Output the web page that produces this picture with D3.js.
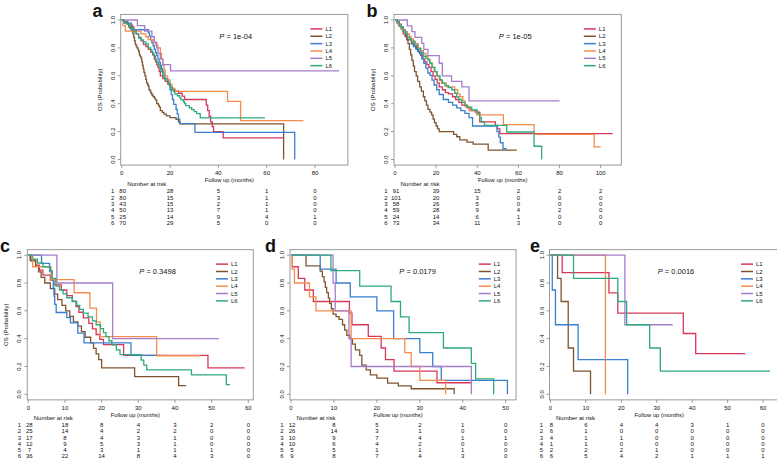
<!DOCTYPE html>
<html><head><meta charset="utf-8">
<script src="https://cdn.jsdelivr.net/npm/d3@7"></script>
<style>body{margin:0;background:#fff}svg{display:block}text{font-family:"Liberation Sans",Arial,sans-serif;fill:#111}</style>
</head><body><svg id="chart" width="777" height="459"></svg>
<script>
const groups = ["L1","L2","L3","L4","L5","L6"];
const colors = ["#D7385A","#7F5530","#3A7FCF","#F68B4C","#A67DCB","#2EAA7F"];
const yTicks = [0,0.2,0.4,0.6,0.8,1.0];

const ticksA = [0,20,40,60,80];
const ticksB = [0,20,40,60,80,100];
const ticksC = [0,10,20,30,40,50,60];
const ticksD = [0,10,20,30,40,50];
const ticksE = [0,10,20,30,40,50,60];

const pA = "1e-04", pB = "1e-05", pC = "0.3498", pD = "0.0179", pE = "0.0016";

const riskA = [[80,28,5,1,0],[80,15,3,1,0],[43,15,2,1,0],[50,13,7,1,0],[25,14,9,4,1],[70,29,5,0,0]];
const riskB = [[91,39,15,2,2,2],[101,20,3,0,0,0],[58,26,5,0,0,0],[59,28,9,4,2,0],[24,14,6,1,0,0],[73,34,11,3,0,0]];
const riskC = [[28,18,8,4,3,2,0],[25,14,4,2,2,0,0],[17,8,4,3,1,0,0],[12,9,5,3,1,0,0],[7,4,3,1,1,1,0],[36,22,14,8,4,3,0]];
const riskD = [[12,8,5,2,1,0],[26,14,3,1,0,0],[10,9,7,4,1,1],[10,6,4,2,0,0],[5,5,1,1,1,0],[9,8,7,4,3,0]];
const riskE = [[8,6,4,4,3,1,0],[6,1,0,0,0,0,0],[4,1,1,0,0,0,0],[1,1,0,0,0,0,0],[2,2,2,1,0,0,0],[6,5,4,2,1,1,1]];

// Kaplan-Meier step points [time, survival]; last point = end of curve
const curvesA = [
 [[0,1],[1,0.9875],[2.5,0.975],[3,0.9625],[4.5,0.95],[5,0.925],[6,0.9],[7,0.875],[8,0.85],[9,0.825],[10,0.81],[11,0.79],[12,0.77],[12.8,0.75],[13.5,0.72],[14,0.7],[14.5,0.68],[15,0.66],[15.5,0.63],[16,0.6],[17,0.58],[18,0.56],[19,0.54],[20,0.52],[21,0.5],[22,0.49],[23.5,0.475],[25,0.455],[26,0.43],[35,0.39],[35.6,0.35],[36.2,0.31],[36.8,0.27],[37.5,0.235],[38,0.2],[42,0.155],[67,0.155]],
 [[0,1],[1,0.9875],[2,0.975],[3,0.95],[3.5,0.9375],[4.2,0.925],[4.6,0.9],[5,0.875],[5.3,0.85],[5.6,0.825],[6,0.8125],[6.3,0.8],[6.8,0.7875],[7,0.775],[7.3,0.75],[7.7,0.7375],[8,0.725],[8.3,0.7],[8.6,0.675],[8.9,0.65],[9.2,0.625],[9.6,0.6],[10,0.575],[10.3,0.55],[10.7,0.5375],[11,0.525],[11.3,0.5],[11.8,0.4875],[12.1,0.475],[12.5,0.4625],[13,0.45],[13.6,0.4375],[14,0.425],[14.5,0.4],[15.2,0.3875],[15.6,0.375],[16,0.35],[16.8,0.3375],[17.5,0.325],[18.5,0.3125],[20,0.3],[22.5,0.2875],[23.5,0.27],[24.2,0.255],[67,0]],
 [[0,1],[1,0.977],[4,0.93],[11,0.907],[11.5,0.884],[12,0.86],[12.5,0.837],[13,0.814],[13.5,0.79],[14,0.767],[14.5,0.744],[15,0.72],[15.5,0.698],[16,0.675],[16.5,0.65],[17,0.628],[17.5,0.605],[18,0.58],[19,0.558],[19.5,0.535],[20,0.5],[20.5,0.465],[21,0.43],[21.5,0.395],[22.5,0.36],[23,0.325],[23.5,0.29],[24,0.257],[30.3,0.195],[71.6,0]],
 [[0,1],[0.5,0.96],[1.5,0.92],[8,0.9],[10,0.88],[11,0.86],[13,0.84],[14,0.82],[15,0.8],[16,0.76],[16.5,0.72],[17,0.68],[17.5,0.64],[18,0.6],[19,0.57],[20,0.54],[20.8,0.51],[22,0.488],[43.8,0.417],[49.2,0.279],[75.2,0.279]],
 [[0,1],[6.5,0.96],[9.5,0.92],[12.5,0.88],[13.5,0.84],[14.5,0.8],[15,0.76],[16,0.72],[17,0.68],[20.2,0.636],[90,0.636]],
 [[0,1],[1,0.986],[2,0.971],[3,0.957],[4,0.943],[5,0.914],[6,0.9],[7,0.871],[8,0.857],[9,0.843],[10,0.829],[11,0.8],[12,0.786],[12.5,0.771],[13,0.757],[13.5,0.743],[14,0.714],[14.5,0.7],[15,0.686],[15.5,0.671],[16,0.643],[16.5,0.629],[17,0.6],[17.5,0.586],[18,0.571],[19,0.557],[19.5,0.543],[20,0.514],[21,0.5],[21.5,0.486],[22,0.471],[23,0.457],[24,0.443],[24.5,0.429],[25.5,0.414],[26,0.4],[26.5,0.386],[28,0.371],[29,0.357],[30,0.343],[31,0.329],[32.5,0.298],[59.3,0.298]]
];
const curvesB = [
 [[0,1],[1,0.978],[2,0.956],[3,0.934],[4,0.9],[5,0.879],[6,0.857],[8,0.835],[9.5,0.813],[10.5,0.79],[11.5,0.77],[12.5,0.747],[13.5,0.72],[14.5,0.7],[15.5,0.68],[16.5,0.66],[17.5,0.63],[18.5,0.6],[19.5,0.575],[20.5,0.55],[21.5,0.52],[23,0.5],[24.5,0.48],[26,0.47],[28,0.45],[29.5,0.43],[31,0.41],[32.5,0.39],[35,0.37],[36.5,0.35],[39,0.34],[41.2,0.27],[48.8,0.245],[49.8,0.22],[51,0.185],[105.8,0.185]],
 [[0,1],[1,0.99],[2,0.97],[3,0.95],[4,0.92],[5,0.89],[5.7,0.86],[6.3,0.83],[7,0.79],[7.6,0.75],[8.2,0.71],[8.9,0.67],[9.5,0.63],[10.3,0.6],[11,0.56],[12,0.52],[12.8,0.49],[13.8,0.45],[14.5,0.42],[15.3,0.39],[16,0.36],[17,0.34],[17.8,0.32],[18.5,0.29],[19.2,0.265],[20,0.24],[20.7,0.22],[21.5,0.2],[28.5,0.18],[30,0.163],[31.5,0.14],[35,0.125],[38,0.11],[45.3,0.067],[59.2,0.067]],
 [[0,1],[1,0.983],[2,0.966],[3,0.948],[4,0.93],[5,0.914],[6,0.897],[7,0.862],[8,0.828],[9,0.81],[10,0.793],[11,0.776],[12,0.759],[13,0.724],[14,0.69],[15,0.655],[16,0.62],[17,0.603],[18,0.569],[19,0.534],[20.3,0.5],[21.5,0.466],[23.5,0.43],[26,0.41],[28,0.39],[30,0.37],[32,0.35],[34,0.33],[36,0.3],[37.7,0.24],[49.6,0.2],[50.5,0.16],[51.2,0.12],[52.5,0.077],[54.3,0.077]],
 [[0,1],[1,0.983],[1.6,0.966],[2.5,0.949],[3.5,0.932],[4.5,0.915],[6,0.898],[7,0.88],[8,0.864],[9,0.847],[10,0.83],[11.3,0.8],[12.5,0.78],[13.8,0.76],[15,0.74],[16,0.72],[17,0.69],[18,0.66],[19,0.63],[20.3,0.6],[21.5,0.57],[22.7,0.545],[25,0.52],[29,0.5],[30.5,0.47],[31.6,0.45],[33,0.42],[34,0.38],[36,0.35],[39.7,0.32],[52.7,0.25],[67.6,0.18],[96.8,0.09],[100,0.09]],
 [[0,1],[6,0.958],[8.2,0.917],[9.7,0.875],[13,0.833],[14,0.79],[16,0.745],[21.5,0.69],[23,0.6],[27.5,0.56],[32.5,0.52],[36,0.42],[80,0.42]],
 [[0,1],[1,0.986],[2,0.959],[3,0.945],[4,0.918],[5,0.904],[6,0.877],[7,0.863],[8,0.849],[9.5,0.822],[11,0.795],[12.5,0.767],[13.8,0.74],[15,0.726],[16,0.712],[17,0.69],[18,0.66],[19.4,0.63],[20.5,0.6],[21.9,0.57],[23,0.55],[24.3,0.53],[26,0.515],[27.6,0.5],[29,0.475],[30,0.45],[31,0.43],[32.4,0.41],[34,0.39],[35,0.375],[37.3,0.355],[40,0.33],[41.2,0.3],[42,0.27],[43.5,0.245],[54.3,0.197],[67.6,0.095],[71.3,0]]
];
const curvesC = [
 [[0,1],[0.5,0.964],[2,0.929],[3,0.893],[4,0.857],[6,0.821],[7,0.786],[9,0.75],[10.5,0.71],[12,0.67],[13,0.63],[13.8,0.59],[15,0.55],[16.5,0.51],[17.5,0.47],[18.5,0.43],[19.5,0.395],[20.5,0.357],[26,0.28],[49,0.19],[59,0.19]],
 [[0,1],[0.6,0.96],[2,0.92],[2.8,0.88],[3.5,0.84],[4.5,0.8],[6,0.76],[7.2,0.72],[8,0.68],[9.2,0.64],[10.2,0.6],[11.3,0.56],[12.3,0.52],[13.5,0.49],[14.5,0.45],[15.5,0.41],[17,0.37],[17.8,0.33],[18.5,0.29],[19.2,0.25],[20,0.19],[29,0.127],[41,0.063],[43,0.063]],
 [[0,1],[3.6,0.941],[5.8,0.882],[6.4,0.824],[6.8,0.765],[7,0.706],[7.2,0.647],[7.6,0.588],[10.5,0.551],[11.5,0.514],[13.5,0.44],[15.2,0.37],[28,0.28],[36,0.28]],
 [[0,1],[1.2,0.917],[6.2,0.825],[12.5,0.73],[16.8,0.62],[18.6,0.52],[19.6,0.415],[35,0.277],[47,0.277]],
 [[0,1],[7.8,0.8],[23,0.4],[52,0.4]],
 [[0,1],[1,0.972],[2.5,0.944],[4,0.917],[6,0.889],[6.5,0.833],[7.5,0.778],[8.5,0.75],[9.5,0.722],[10.5,0.694],[12,0.667],[13.2,0.639],[14,0.611],[15,0.583],[16.3,0.556],[17.5,0.528],[18.5,0.5],[19.7,0.472],[20.5,0.444],[21.2,0.415],[22,0.385],[22.8,0.355],[24,0.32],[25,0.285],[30.8,0.245],[31.5,0.21],[32.3,0.175],[44.5,0.14],[54,0.07],[55,0.07]]
];
const curvesD = [
 [[0,1],[0.3,0.917],[1.7,0.833],[3.2,0.75],[5.2,0.667],[13.6,0.583],[14.2,0.5],[18,0.417],[21,0.333],[22,0.25],[24,0.167],[34,0.083],[42,0.083]],
 [[0,1],[3.5,0.923],[6.8,0.885],[7.3,0.846],[7.7,0.808],[8,0.769],[8.3,0.731],[8.7,0.692],[9,0.654],[9.4,0.615],[9.8,0.577],[10.5,0.558],[11.2,0.538],[12,0.5],[12.5,0.462],[13,0.423],[13.7,0.4],[14.3,0.36],[15,0.32],[16,0.28],[16.5,0.21],[17.5,0.175],[18.5,0.14],[20,0.117],[22.5,0.08],[25,0.06],[28,0.04],[38,0]],
 [[0,1],[6.8,0.9],[10.5,0.8],[13.8,0.7],[20,0.6],[23.9,0.4],[30,0.3],[33,0.2],[35,0.1],[50.4,0]],
 [[0,1],[0.3,0.9],[0.8,0.8],[4.3,0.7],[5.8,0.6],[14,0.4],[26.5,0.3],[28,0.2],[30,0.1],[36,0]],
 [[0,1],[9.8,0.8],[10.3,0.6],[13.5,0.4],[14,0.2],[42,0]],
 [[0,1],[9.3,0.889],[16,0.778],[23.3,0.667],[25.5,0.556],[27.5,0.444],[35.5,0.333],[42,0.222],[43,0.111],[47.2,0]]
];
const curvesE = [
 [[0,1],[3.3,0.875],[16.5,0.729],[19,0.583],[37.5,0.437],[41,0.292],[55,0.292]],
 [[0,1],[2,0.833],[3,0.667],[5,0.333],[6.5,0.167],[11.3,0]],
 [[0,1],[0.5,0.75],[1.4,0.5],[7.8,0.25],[21.8,0]],
 [[0,1],[15.5,0]],
 [[0,1],[21,0.5],[34.5,0.5]],
 [[0,1],[6.5,0.833],[19,0.667],[21.5,0.5],[28,0.333],[31,0.167],[62,0.167]]
];

const panels = [
 {lab:"a", labPos:[92.5,16.5], curves:curvesA, risk:riskA, ticks:ticksA, p:pA, xr:[121.7,315], yr:[159.5,20], ytitle:true, headY:184.3, rowY:191, rowDY:6.4},
 {lab:"b", labPos:[366.5,16.5], curves:curvesB, risk:riskB, ticks:ticksB, p:pB, xr:[395,600.7], yr:[159.5,20], ytitle:true, headY:184.3, rowY:191, rowDY:6.4},
 {lab:"c", labPos:[0,251.5], curves:curvesC, risk:riskC, ticks:ticksC, p:pC, xr:[28.3,248.3], yr:[394.3,255.2], ytitle:true, headY:417.7, rowY:425, rowDY:6.2},
 {lab:"d", labPos:[265,251.5], curves:curvesD, risk:riskD, ticks:ticksD, p:pD, xr:[291,505.7], yr:[394.3,255.2], ytitle:false, headY:417.7, rowY:425, rowDY:6.2},
 {lab:"e", labPos:[530,251.5], curves:curvesE, risk:riskE, ticks:ticksE, p:pE, xr:[550.5,763], yr:[394.3,255.2], ytitle:false, headY:417.7, rowY:425, rowDY:6.2}
];

const svg = d3.select("#chart");
svg.append("rect").attr("width",777).attr("height",459).attr("fill","#fff");
const fmt = d3.format(".1f");

panels.forEach(P => {
  const tmax = P.ticks[P.ticks.length-1];
  const x = d3.scaleLinear().domain([0,tmax]).range(P.xr);
  const y = d3.scaleLinear().domain([0,1]).range(P.yr);
  const dataMax = d3.max(P.curves, c => c[c.length-1][0]);
  const bl = x(0)-1, br = x(dataMax*1.04), bt = y(1.04), bb = y(-0.04);
  const g = svg.append("g");

  g.append("rect").attr("x",bl).attr("y",bt).attr("width",br-bl).attr("height",bb-bt)
    .attr("fill","none").attr("stroke","#9a9a9a").attr("stroke-width",1);

  yTicks.forEach(v => {
    g.append("line").attr("x1",bl).attr("x2",bl-3).attr("y1",y(v)).attr("y2",y(v)).attr("stroke","#777").attr("stroke-width",0.7);
    g.append("text").attr("transform",`translate(${bl-6},${y(v)}) rotate(-90)`)
      .attr("text-anchor","middle").attr("font-size",6).text(fmt(v));
  });
  if (P.ytitle) {
    g.append("text").attr("transform",`translate(${bl-19},${(bt+bb)/2}) rotate(-90)`)
      .attr("text-anchor","middle").attr("font-size",6).text("OS (Probability)");
  }
  P.ticks.forEach(t => {
    g.append("line").attr("x1",x(t)).attr("x2",x(t)).attr("y1",bb).attr("y2",bb+3).attr("stroke","#777").attr("stroke-width",0.7);
    g.append("text").attr("x",x(t)).attr("y",bb+9.7).attr("text-anchor","middle").attr("font-size",6).text(t);
  });
  g.append("text").attr("x",(bl+br)/2-5).attr("y",bb+16.8).attr("text-anchor","middle").attr("font-size",5.8).text("Follow up (months)");

  const line = d3.line().x(d=>x(d[0])).y(d=>y(d[1])).curve(d3.curveStepAfter);
  P.curves.forEach((c,i) => {
    g.append("path").attr("d",line(c)).attr("fill","none").attr("stroke",colors[i]).attr("stroke-width",1.3);
  });

  const pt = g.append("text").attr("x",x(tmax/2)+1).attr("y",y(0.885)+2.7).attr("font-size",7.5);
  pt.append("tspan").attr("font-style","italic").text("P");
  pt.append("tspan").text(" = " + P.p);

  const lx = bl + 0.835*(br-bl);
  groups.forEach((gname,i) => {
    const ly = bt + 14.5 + i*7.35;
    g.append("line").attr("x1",lx).attr("x2",lx+12).attr("y1",ly).attr("y2",ly).attr("stroke",colors[i]).attr("stroke-width",1.5);
    g.append("text").attr("x",lx+15).attr("y",ly+2.1).attr("font-size",6).text(gname);
  });

  g.append("text").attr("x",x(0)+25).attr("y",P.headY+2.1).attr("text-anchor","middle").attr("font-size",6).text("Number at risk");
  P.risk.forEach((row,i) => {
    const ry = P.rowY + i*P.rowDY + 2.1;
    g.append("text").attr("x",x(0)-9).attr("y",ry).attr("text-anchor","middle").attr("font-size",6).text(i+1);
    row.forEach((v,j) => {
      g.append("text").attr("x",x(P.ticks[j])+(j===0?1:0)).attr("y",ry).attr("text-anchor","middle").attr("font-size",6).text(v);
    });
  });

  g.append("text").attr("x",P.labPos[0]).attr("y",P.labPos[1]).attr("font-size",18).attr("font-weight","bold").text(P.lab);
});
</script></body></html>
